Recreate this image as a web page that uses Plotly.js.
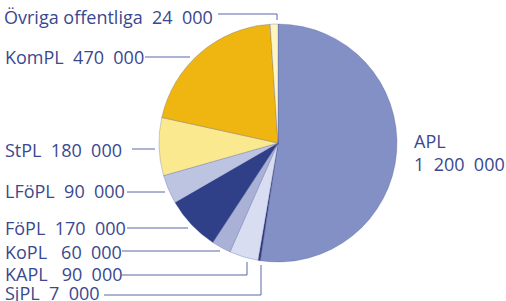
<!DOCTYPE html>
<html><head><meta charset="utf-8">
<script src="https://cdn.plot.ly/plotly-3.0.1.min.js"></script>
<style>html,body{margin:0;padding:0;background:#fff}#c{width:506px;height:301px}</style>
</head><body><div id="c"></div>
<script>
const labels = ["APL","SjPL","KAPL","KoPL","FöPL","LFöPL","StPL","KomPL","Övriga offentliga"];
const values = [1200000, 7000, 90000, 60000, 170000, 90000, 180000, 470000, 24000];
const colors = ["#8290c6","#2c3a7e","#d9ddf1","#a9b2d6","#2f3f88","#bcc4e2","#fbe98f","#efb510","#fdf5c2"];

function fmt(v){ return String(v).replace(/\B(?=(\d{3})+(?!\d))/g, "\u00a0\u00a0"); }

// label placements (paper px): [x, y, lineX0, lineX1, lineY, elbowX, elbowY]
const pos = {
  "Övriga offentliga": [2, 17, 218, 277, 14, 277, 20],
  "KomPL": [3, 57, 145, 190, 57, null, null],
  "StPL": [3, 150, 132, 155, 149, null, null],
  "LFöPL": [3, 191, 127, 165, 192, null, null],
  "FöPL": [3, 228, 127, 188, 228, null, null],
  "KoPL": [3, 252, 122, 220, 251, null, null],
  "KAPL": [3, 274, 122, 247, 275, 247, 262],
  "SjPL": [3, 293, 104, 261, 295, 261, 265]
};
const W = 506, H = 301;
const txtColor = "#3a4890";
const lineColor = "#5a67a8";
const FS = 18;
const annotations = [];
const shapes = [];
labels.forEach((lab, i) => {
  if (lab === "APL") {
    annotations.push({xref:"paper", yref:"paper", x:412/W, y:1-152/H, xanchor:"left", yanchor:"middle",
      text: lab + "<br>" + fmt(values[i]), showarrow:false, align:"left",
      font:{family:"Open Sans", size:FS, color:txtColor}});
    return;
  }
  const p = pos[lab];
  const sep = (lab === "KoPL" || lab === "KAPL") ? "\u00a0\u00a0\u00a0" : "\u00a0\u00a0";
  annotations.push({xref:"paper", yref:"paper", x:p[0]/W, y:1-p[1]/H, xanchor:"left", yanchor:"middle",
    text: lab + sep + fmt(values[i]), showarrow:false,
    font:{family:"Open Sans", size:FS, color:txtColor}});
  shapes.push({type:"line", xref:"paper", yref:"paper", x0:p[2]/W, x1:p[3]/W, y0:1-p[4]/H, y1:1-p[4]/H,
    line:{color:lineColor, width:1}});
  if (p[5] !== null) {
    shapes.push({type:"line", xref:"paper", yref:"paper", x0:p[5]/W, x1:p[5]/W, y0:1-p[4]/H, y1:1-p[6]/H,
      line:{color:lineColor, width:1}});
  }
});

const cx = 278, cy = 143, r = 119;
Plotly.newPlot("c", [{
  type:"pie", labels:labels, values:values, sort:false, direction:"clockwise", rotation:0,
  marker:{colors:colors, line:{color:"rgba(70,80,140,0.45)", width:0.6}},
  textinfo:"none", hoverinfo:"none",
  domain:{x:[(cx-r)/W,(cx+r)/W], y:[1-(cy+r)/H, 1-(cy-r)/H]}
}], {
  width:W, height:H, margin:{l:0,r:0,t:0,b:0}, showlegend:false,
  paper_bgcolor:"#fff", annotations:annotations, shapes:shapes
}, {staticPlot:true});
</script></body></html>
